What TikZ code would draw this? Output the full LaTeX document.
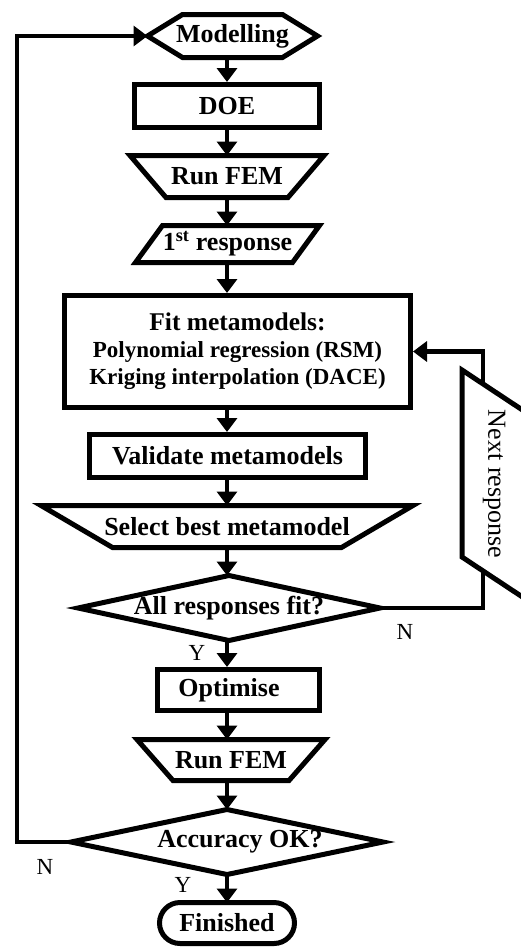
\documentclass[tikz,border=0pt]{standalone}
\usepackage{fontspec}
\setmainfont{Liberation Serif}
\usetikzlibrary{arrows.meta,calc,shapes.misc}

\begin{document}
\begin{tikzpicture}[x=1pt,y=-1pt,
  outline/.style={line width=5pt, line join=miter},
  holder/.style={rectangle, inner sep=0pt, outer sep=0pt,
    font=\bfseries\fontsize{26}{28}\selectfont},
  stepbox/.style={holder, draw, line width=5pt, outer sep=2.5pt},
  tip/.style={-{Triangle[width=20pt,length=14pt]}},
  flow/.style={line width=4.5pt, tip},
  yn/.style={font=\fontsize{23}{25}\selectfont, inner sep=0pt}
]
\useasboundingbox (0,0) rectangle (520,948);

% vertical axis of the main flow and the two return lines
\coordinate (axis) at (227,0);
\coordinate (rightline) at (483,0);
\coordinate (leftline) at (17,0);

% Modelling (hexagon)
\node[holder, minimum width=170pt, minimum height=43pt] (model) at (232.5,36) {Modelling};
\draw[outline] (model.west) -- ($(model.north west)+(35,0)$) -- ($(model.north east)+(-35,0)$)
  -- (model.east) -- ($(model.south east)+(-35,0)$) -- ($(model.south west)+(35,0)$) -- cycle;

% DOE
\node[stepbox, minimum width=185pt, minimum height=43pt] (doe) at (227,106) {DOE};

% Run FEM (trapezium, wide top)
\node[holder, minimum width=194pt, minimum height=42pt] (fem1) at (227,176.5) {Run FEM};
\draw[outline] (fem1.north west) -- (fem1.north east) -- ($(fem1.south east)+(-36,0)$)
  -- ($(fem1.south west)+(36,0)$) -- cycle;

% 1st response (parallelogram)
\node[holder, minimum width=184pt, minimum height=37pt] (resp1) at (227.5,244) {1\textsuperscript{st} response};
\draw[outline] ($(resp1.north west)+(27,0)$) -- (resp1.north east) -- ($(resp1.south east)+(-27,0)$)
  -- (resp1.south west) -- cycle;

% Fit metamodels
\node[stepbox, minimum width=346pt, minimum height=112pt, align=center,
  font=\bfseries\fontsize{23}{27}\selectfont] (fit) at (237.5,351.5)
  {{\fontsize{25.5}{27}\selectfont Fit metamodels:}\\Polynomial regression (RSM)\\Kriging interpolation (DACE)};

% Validate metamodels
\node[stepbox, minimum width=276pt, minimum height=43pt] (valid) at (227.5,456) {Validate metamodels};

% Select best metamodel (trapezium, wide top)
\node[holder, minimum width=372pt, minimum height=42pt] (select) at (227,526.5) {Select best metamodel};
\draw[outline] (select.north west) -- (select.north east) -- ($(select.south east)+(-71.5,0)$)
  -- ($(select.south west)+(71.5,0)$) -- cycle;

% All responses fit? (decision)
\node[holder, minimum width=302pt, minimum height=65pt] (allfit) at (229,608) {All responses fit?};
\draw[outline] (allfit.north) -- (allfit.east) -- (allfit.south) -- (allfit.west) -- cycle;

% Optimise
\node[stepbox, minimum width=162pt, minimum height=41pt] (optim) at (238.5,690) {Optimise\hspace*{19pt}};

% Run FEM (second pass)
\node[holder, minimum width=188pt, minimum height=41pt] (fem2) at (231,760) {Run FEM};
\draw[outline] (fem2.north west) -- (fem2.north east) -- ($(fem2.south east)+(-36,0)$)
  -- ($(fem2.south west)+(36,0)$) -- cycle;

% Accuracy OK? (decision)
\node[holder, minimum width=312pt, minimum height=65pt] (accur) at (227,842) {\hspace*{26pt}Accuracy OK?};
\draw[outline] (accur.north) -- (accur.east) -- (accur.south) -- (accur.west) -- cycle;

% Finished (terminator)
\node[holder, draw, rounded rectangle, line width=5pt, minimum width=135pt, minimum height=41pt] (finish) at (227,923) {Finished};

% main downward flow
\draw[flow] (model.south -| axis) -- (doe.north -| axis);
\draw[flow] (doe.south -| axis) -- (fem1.north -| axis);
\draw[flow] (fem1.south -| axis) -- (resp1.north -| axis);
\draw[flow] (resp1.south -| axis) -- (fit.north -| axis);
\draw[flow] (fit.south -| axis) -- (valid.north -| axis);
\draw[flow] (valid.south -| axis) -- (select.north -| axis);
\draw[flow] (select.south -| axis) -- (allfit.north -| axis);
\draw[flow] (allfit.south -| axis) -- (optim.north -| axis);
\draw[flow] (optim.south -| axis) -- (fem2.north -| axis);
\draw[flow] (fem2.south -| axis) -- (accur.north -| axis);
\draw[flow] (accur.south -| axis) -- (finish.north -| axis);

% return loops
\draw[flow] (allfit.east) -- (allfit.east -| rightline) |- (fit.east);
\draw[flow] (accur.west) -- (accur.west -| leftline) |- (model.west);

% Next response (parallelogram standing on its side, over the return line)
\draw[outline, fill=white] (462,370) -- (530,415) -- (530,602) -- (462,557) -- cycle;
\node[rotate=-90, font=\fontsize{26}{28}\selectfont, inner sep=0pt] (nextr) at (494,484) {Next response};

% branch labels
\node[yn] (yes1) at (197,653) {Y};
\node[yn] (yes2) at (183,885) {Y};
\node[yn] (no1) at (405,632) {N};
\node[yn] (no2) at (45,867) {N};
\end{tikzpicture}
\end{document}
